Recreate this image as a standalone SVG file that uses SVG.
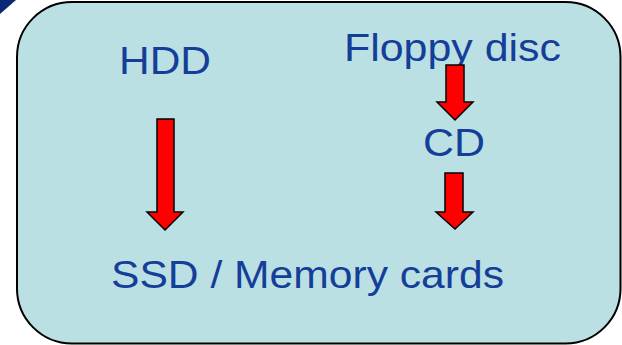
<svg xmlns="http://www.w3.org/2000/svg" width="622" height="345" viewBox="0 0 622 345">
<style>
.lbl{font-family:"Liberation Sans",Arial,sans-serif;font-size:39px;fill:#153E99}
.arr{fill:#FF0000;stroke:#000;stroke-width:1.5;stroke-linejoin:miter}
</style>
<rect width="622" height="345" fill="#FFFFFF"/>
<polygon points="0,0 16,0 0,14" fill="#0B2878"/>
<g id="panel">
<rect x="17" y="2" width="603.5" height="341.5" rx="55" ry="55" fill="#BBE0E3" stroke="#000" stroke-width="2"/>
</g>
<g id="hdd"><text class="lbl" x="119" y="74" textLength="92" lengthAdjust="spacingAndGlyphs">HDD</text></g>
<g id="floppy"><text class="lbl" x="344" y="61" textLength="217" lengthAdjust="spacingAndGlyphs">Floppy disc</text></g>
<g id="cd"><text class="lbl" x="423" y="156" textLength="62" lengthAdjust="spacingAndGlyphs">CD</text></g>
<g id="ssd"><text class="lbl" x="111" y="288" textLength="393" lengthAdjust="spacingAndGlyphs">SSD / Memory cards</text></g>
<g id="connectors">
<polygon class="arr" points="157,119 174,119 174,212 183,212 165,230 147,212 157,212"/>
<polygon class="arr" points="446,65 464,65 464,102 473,102 455,120 437,102 446,102"/>
<polygon class="arr" points="445,173 463,173 463,212 473,212 455,229 436,212 445,212"/>
</g>
</svg>
